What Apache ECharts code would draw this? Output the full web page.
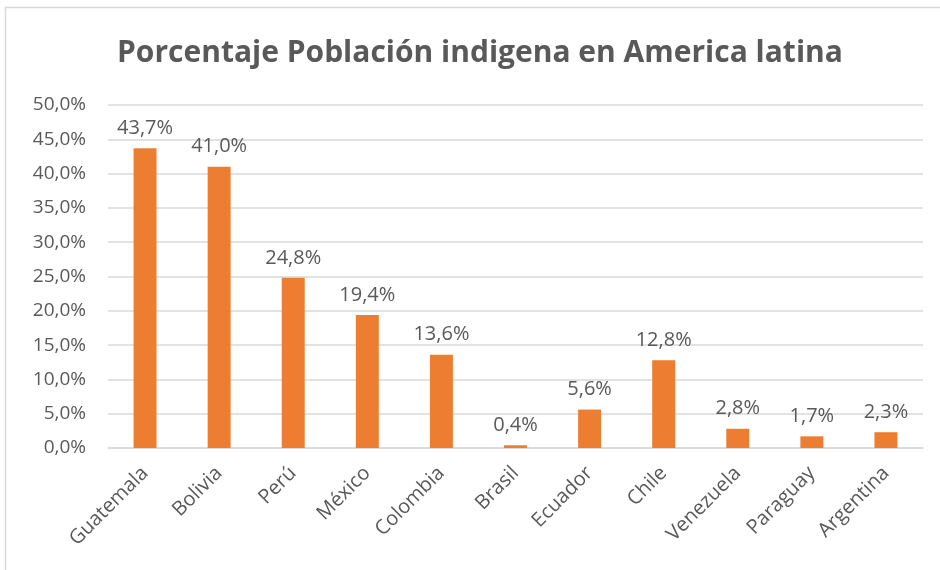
<!DOCTYPE html>
<html>
<head>
<meta charset="utf-8">
<script src="https://cdn.jsdelivr.net/npm/echarts@6/dist/echarts.min.js"></script>
<style>html,body{margin:0;padding:0;background:#fff}#c{width:940px;height:570px}</style>
</head>
<body>
<div id="c"></div>
<script>
const titleText = 'Porcentaje Población indigena en America latina';
const categories = ['Guatemala','Bolivia','Perú','México','Colombia','Brasil','Ecuador','Chile','Venezuela','Paraguay','Argentina'];
const values = [43.7, 41.0, 24.8, 19.4, 13.6, 0.4, 5.6, 12.8, 2.8, 1.7, 2.3];
const yMin = 0, yMax = 50, yStep = 5;

const fmt = v => v.toFixed(1).replace('.', ',') + '%';
const font = '"Open Sans", "Noto Sans", sans-serif';
const chart = echarts.init(document.getElementById('c'));
chart.setOption({
  animation: false,
  textStyle: { fontFamily: font },
  graphic: [{
    type: 'rect', shape: { x: 5.5, y: 7.5, width: 960, height: 600 },
    style: { fill: 'none', stroke: '#d9d9d9', lineWidth: 1.5 }, silent: true
  }],
  title: {
    text: titleText, left: 117, top: 38, padding: 0,
    textStyle: { fontFamily: font, fontSize: 30, fontWeight: 'bold', color: '#595959' }
  },
  grid: { left: 108, right: 17, top: 105, bottom: 122, containLabel: false },
  xAxis: {
    type: 'category', data: categories,
    axisLine: { lineStyle: { color: '#d9d9d9', width: 1.5 } },
    axisTick: { show: false },
    axisLabel: { rotate: 45, fontSize: 20, color: '#595959', margin: 22, interval: 0, fontFamily: font }
  },
  yAxis: {
    type: 'value', min: yMin, max: yMax, interval: yStep,
    axisLine: { show: false }, axisTick: { show: false },
    splitLine: { lineStyle: { color: '#d9d9d9', width: 1.5 } },
    axisLabel: { fontSize: 19, color: '#595959', margin: 22, formatter: fmt, fontFamily: font }
  },
  series: [{
    type: 'bar', data: values, barWidth: '31%',
    itemStyle: { color: '#ED7D31' },
    label: { show: true, position: 'top', distance: 10, fontSize: 20, color: '#595959', formatter: p => fmt(p.value), fontFamily: font }
  }]
});
</script>
</body>
</html>
